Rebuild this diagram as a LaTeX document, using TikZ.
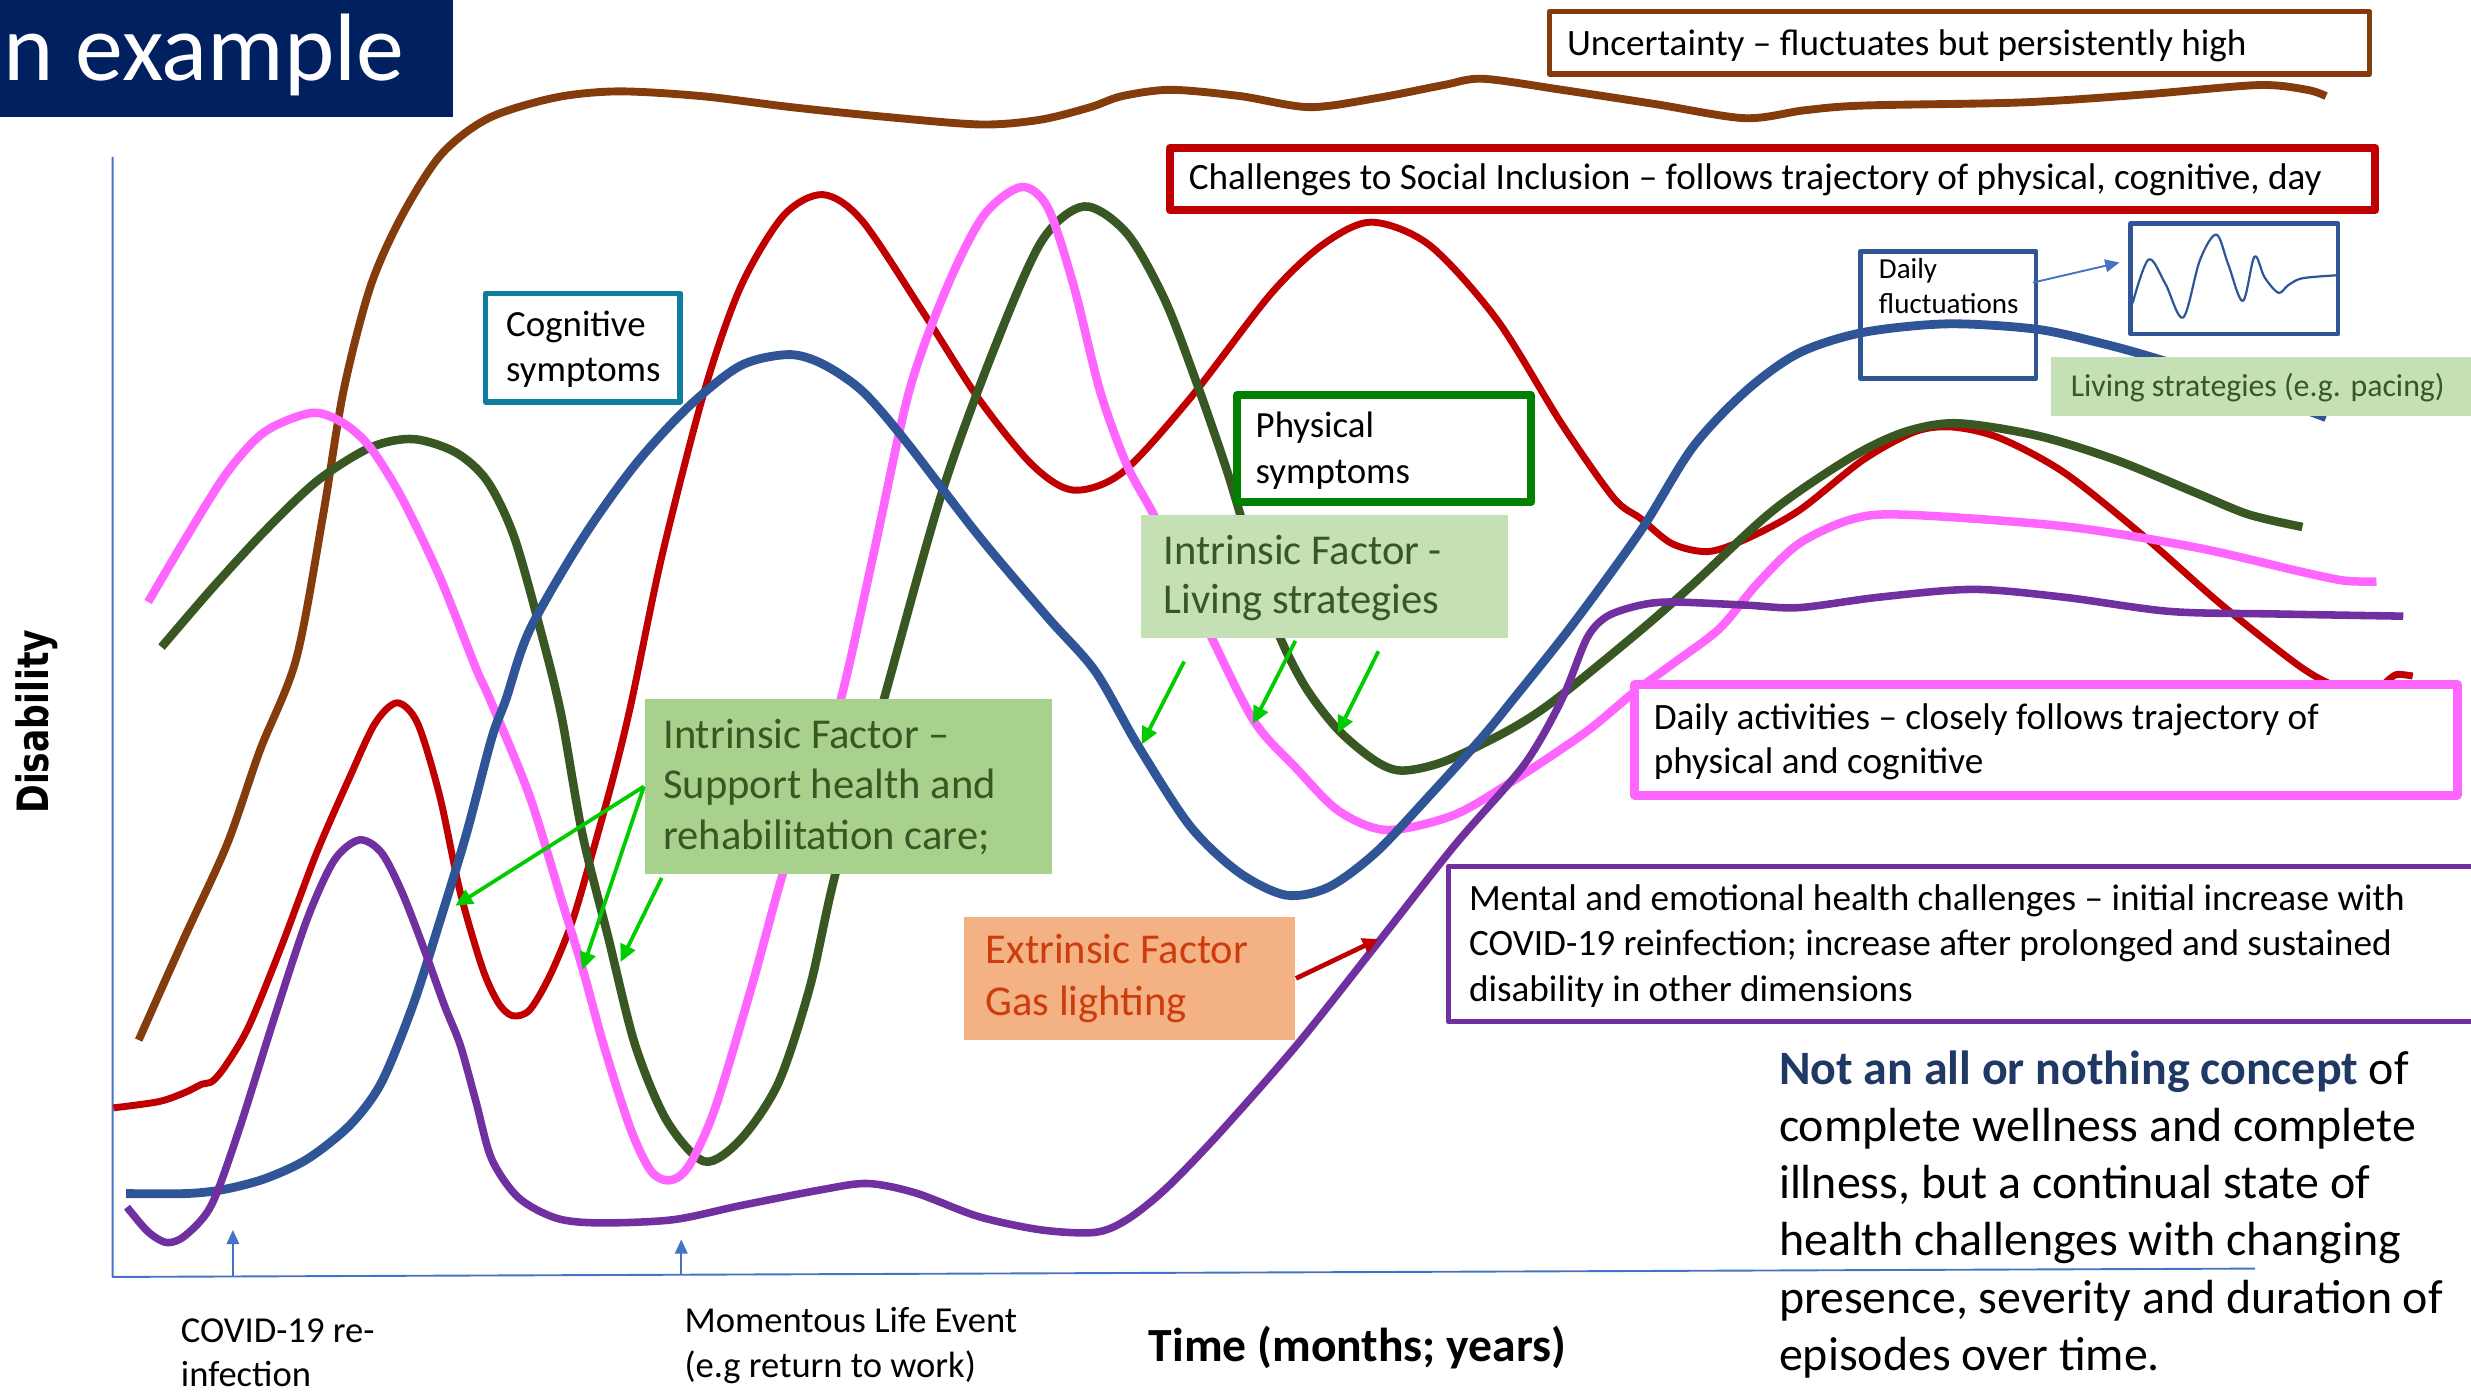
\documentclass[tikz,border=0pt]{standalone}
\usepackage{fontspec}
\setmainfont{Carlito}
\newfontfamily\disfont{DejaVu Sans}[FakeStretch=0.8]
\usetikzlibrary{arrows.meta}
\definecolor{navyT}{HTML}{002060}
\definecolor{brownc}{HTML}{843C0C}
\definecolor{redc}{HTML}{C00000}
\definecolor{dgreen}{HTML}{385723}
\definecolor{pinkc}{HTML}{FF66FF}
\definecolor{bluec}{HTML}{2F5597}
\definecolor{purplec}{HTML}{7030A0}
\definecolor{tealc}{HTML}{0F7DA0}
\definecolor{boxgreen}{HTML}{008000}
\definecolor{lgreen}{HTML}{C5E0B4}
\definecolor{mgreen}{HTML}{A9D18E}
\definecolor{orfill}{HTML}{F4B183}
\definecolor{ortext}{HTML}{CC3D0E}
\definecolor{argreen}{HTML}{00CC00}
\definecolor{axisblue}{HTML}{4472C4}
\definecolor{ntext}{HTML}{1F3864}
\newcommand\twoln[2]{\vtop{\hbox{#1}\hbox{#2}}}
\newcommand\threeln[3]{\vtop{\hbox{#1}\hbox{#2}\hbox{#3}}}
\begin{document}
\begin{tikzpicture}[x=0.5pt,y=-0.5pt,line join=round,
  tx/.style={inner sep=0pt,anchor=base west},
  bx/.style={draw,fill=white,inner sep=0pt},
  fb/.style={inner sep=0pt},
  garr/.style={draw=argreen,line width=1.2pt,-{Triangle[length=5.5pt,width=5pt]}},
  barr/.style={draw=axisblue,line width=0.6pt,-{Triangle[length=4.5pt,width=4pt]}},
  f12/.style={font=\fontsize{11.8}{14.2}\selectfont},
  f13/.style={font=\fontsize{13.5}{16}\selectfont}]
\useasboundingbox (0,0) rectangle (1568,886);
\clip (0,0) rectangle (1568,886);

% axes
\coordinate (O) at (71.5,810.3);
\coordinate (Ytop) at (71.5,99.5);
\coordinate (Xend) at (1431,805);
\draw[axisblue,line width=0.6pt] (Ytop) -- (O) -- (Xend);
\coordinate (ua1s) at (147.8,809.5);
\coordinate (ua1e) at (147.8,780.5);
\coordinate (ua2s) at (432.3,808.5);
\coordinate (ua2e) at (432.3,786.5);
\draw[barr] (ua1s) -- (ua1e);
\draw[barr] (ua2s) -- (ua2e);

% curves
\draw[brownc,line width=2.5pt] plot[smooth,tension=0.5] coordinates {(88,660) (117,595) (144,536) (165,476) (188,418) (205,327) (218,248) (235,182) (255,137) (280,98) (310,75) (352,62) (392,58) (445,61) (502,68) (560,74) (622,79) (660,76) (692,68) (712,61) (743,57) (787,61) (831,68) (875,62) (916,54) (941,50) (991,57) (1050,66) (1107,75) (1145,70) (1182,67) (1283,65) (1360,60) (1433,54) (1464,57) (1476,61)};

\draw[redc,line width=2.2pt] plot[smooth,tension=0.5] coordinates {(72,703) (101,699) (118,693) (128,688) (135,686) (144,675) (158,651) (178,602) (201,541) (222,493) (238,459) (252,446) (265,459) (279,505) (292,566) (306,614) (316,636) (325,644.5) (336,641) (349,619) (363,585) (376,541) (390,490) (401,444) (420,353) (447,248) (470,182) (497,137) (522,123.5) (547,140) (587,200) (621,253) (655,295) (681,311) (712,300) (755,253) (806,187) (839,155.5) (870,141) (907,155.5) (950,203) (991,269) (1024,316) (1041,329) (1061,345) (1084,350) (1108,342) (1141.5,324) (1182,292) (1215,274) (1239,271) (1269,278) (1310,300) (1360,340) (1410,384) (1461,424) (1488,438) (1505,441) (1515,432) (1521,428) (1531,429)};

\draw[dgreen,line width=2.7pt] plot[smooth,tension=0.5] coordinates {(102.5,410.6) (134,374) (168,337) (201.5,305) (235,284) (262,278.6) (289,287) (309,305) (326,340) (343,400) (356,453) (369.5,529) (386,595) (403,663) (423,711) (447,737) (470,723) (494,687) (514,626) (530,555) (560.6,444.8) (597.6,313) (631,221) (661,153) (688,131) (715,148) (739,190) (759,242) (779,300) (797,360) (812.5,405) (829,437) (849.5,463.5) (873,483) (890,489) (917,483) (957,463.6) (987,444) (1041,400) (1074,371) (1125,324) (1175,290) (1209,274) (1242,268.6) (1293,276.5) (1343,292) (1394,313) (1427,326.5) (1461,334.4)};

\draw[pinkc,line width=2.7pt] plot[smooth,tension=0.5] coordinates {(94,382) (117.6,342) (144,300) (168,274) (198,262) (218,268.6) (235,284) (255,316) (279,366) (302,424) (311,444) (336,505) (356,570) (369.5,614) (383,663) (400,716) (413,743) (425,749) (437,740) (453.5,704) (477,626) (497,553.5) (516,497) (534,442) (554,353) (577,248) (601,182) (624,137) (648,118.7) (665,132) (681.5,182) (698,248) (715,295) (732,326.5) (750,366) (769,405) (796,458) (823,488) (849.5,514.6) (880,526.7) (923,517) (964,493) (1007,464) (1036,440) (1061,421.5) (1091,399) (1115,370.5) (1141.5,345) (1175,329.5) (1209,326.6) (1310,334) (1394,347.5) (1461,363) (1488,368.5) (1508,369)};

\draw[bluec,line width=2.8pt] plot[smooth,tension=0.5] coordinates {(80,757.4) (117.6,757.4) (141,755) (168,748) (195,735.5) (222,714) (242,687) (262,638) (279,585) (296,529) (312,468.5) (321,444) (336,400) (369.5,342) (403,295) (437,258) (470,232) (500.5,225) (522,231) (547,248) (574,279) (621,340) (665,392) (695,426) (722,473) (755,524) (786,553.5) (816,568) (843,563) (873,541) (907,505) (940,468.5) (960,444) (997,397.5) (1041,337) (1074,284) (1108,248) (1141.5,224) (1182,211) (1236,205.5) (1293,209) (1336.5,218.6) (1370,228) (1420,244) (1476,265)};

\draw[purplec,line width=2.4pt] plot[smooth,tension=0.5] coordinates {(80.6,766) (94,781.7) (106,788.5) (117.6,784) (134,765) (151,719) (175,643) (195,583) (212,546) (228,533) (242,541) (255,566) (269,602) (282,638) (292,663) (302,699) (312,735.5) (329,760) (353,773) (380,776) (427,774) (470,765) (521,755) (550.5,751) (581,757) (621,772) (661,780.5) (695,782) (715,774) (739,755) (772,721) (823,663) (873,600) (923,536.5) (967,485.5) (991,444) (1007,405) (1020,391) (1041,384) (1061,382) (1108,384) (1141.5,385.6) (1192,379) (1252,374) (1310,379) (1377,388) (1444,389.6) (1525,391)};

% title
\node[fb,fill=navyT,minimum width=143.75pt,minimum height=37.25pt] (titlebox) at (143.75,37.25) {};
\node[tx,text=white,font=\fontsize{30.4}{36}\selectfont] (title) at (2,51) {n example};

% boxes
\node[bx,draw=brownc,line width=1.7pt,minimum width=260.25pt,minimum height=19.8pt] (unc) at (1243.35,27.2) {};
\node[tx,f12] (unct) at (994,35) {Uncertainty – fluctuates but persistently high};

\node[bx,draw=redc,line width=2.5pt,minimum width=382.4pt,minimum height=19.9pt] (chal) at (1124.9,113.6) {};
\node[tx,f12] (chalt) at (754,120.5) {Challenges to Social Inclusion – follows trajectory of physical, cognitive, day};

\node[bx,draw=tealc,line width=1.7pt,minimum width=61.75pt,minimum height=34.5pt] (cog) at (369.85,220.6) {};
\node[tx,font=\fontsize{11.7}{14.45}\selectfont] (cogt) at (320.8,213.4) {\twoln{Cognitive}{symptoms}};

\node[bx,draw=boxgreen,line width=2.5pt,minimum width=93.25pt,minimum height=33.95pt] (phys) at (878.05,284.75) {};
\node[tx,font=\fontsize{11.7}{14.45}\selectfont] (physt) at (796.4,277.8) {\twoln{Physical}{symptoms}};

\node[bx,fill=white,draw=bluec,line width=1.4pt,minimum width=65.85pt,minimum height=35pt] (wave) at (1417.85,176.9) {};
\draw[bluec,line width=0.7pt] plot[smooth,tension=0.55] coordinates {(1353.3,192.3) (1363.4,164.7) (1374,180) (1385.3,201.5) (1396,165) (1406.4,148.9) (1414,168) (1423.2,191) (1430.6,162.9) (1437,176) (1445.8,185.8) (1452,181) (1461,176.6) (1482.8,174.7)};

\node[draw=bluec,line width=1.4pt,inner sep=0pt,minimum width=55.8pt,minimum height=40.35pt] (dfl) at (1236.3,199.85) {};
\node[tx,font=\fontsize{9.2}{11.3}\selectfont] (dflt) at (1191.9,176.5) {\twoln{Daily}{fluctuations}};
\coordinate (bas) at (1290.1,179.3);
\coordinate (bae) at (1344.9,166.6);
\draw[barr] (bas) -- (bae);

\node[fb,fill=lgreen,minimum width=136.75pt,minimum height=18.55pt] (lsp) at (1438.25,245.15) {};
\node[tx,text=dgreen,font=\fontsize{10.1}{12}\selectfont] (lspt) at (1313.6,251.5) {Living strategies (e.g. pacing)};

\node[fb,fill=lgreen,minimum width=116.55pt,minimum height=39.2pt] (ilv) at (840.45,365.7) {};
\node[tx,text=dgreen,font=\fontsize{13.5}{15.8}\selectfont] (ilvt) at (738,358) {\twoln{Intrinsic Factor -}{Living strategies}};

\node[fb,fill=mgreen,minimum width=129.2pt,minimum height=55.55pt] (sup) at (538.2,499.05) {};
\node[tx,text=dgreen,font=\fontsize{13.5}{16}\selectfont] (supt) at (420.5,475) {\threeln{Intrinsic Factor –}{Support health and}{rehabilitation care;}};

\node[fb,fill=orfill,minimum width=105.15pt,minimum height=38.95pt] (ext) at (716.85,620.85) {};
\node[tx,text=ortext,font=\fontsize{13.5}{16.4}\selectfont] (extt) at (625.1,611.7) {\twoln{Extrinsic Factor}{Gas lighting}};

\node[bx,draw=pinkc,line width=2.75pt,minimum width=260.95pt,minimum height=35.2pt] (dact) at (1298.25,469.5) {};
\node[tx,font=\fontsize{11.8}{14.15}\selectfont] (dactt) at (1049,462.6) {\twoln{Daily activities – closely follows trajectory of}{physical and cognitive}};

\node[bx,draw=purplec,line width=1.75pt,minimum width=330.5pt,minimum height=49.25pt] (ment) at (1249.5,599.05) {};
\node[tx,font=\fontsize{11.8}{14.3}\selectfont] (mentt) at (931.8,578) {\threeln{Mental and emotional health challenges – initial increase with}{COVID-19 reinfection; increase after prolonged and sustained}{disability in other dimensions}};

% arrows
\coordinate (g1e) at (288.9,574.8);
\coordinate (g2e) at (369.5,615.4);
\coordinate (g3s) at (419.9,557.1);
\coordinate (g3e) at (393.7,610.5);
\draw[garr] (sup.west) -- (g1e);
\draw[garr] (sup.west) -- (g2e);
\draw[garr] (g3s) -- (g3e);
\coordinate (l1s) at (751.4,419.8);
\coordinate (l1e) at (724.5,472.4);
\coordinate (l2s) at (822,406.7);
\coordinate (l2e) at (795.1,459.3);
\coordinate (l3s) at (874.7,413.3);
\coordinate (l3e) at (848.8,465.3);
\draw[garr] (l1s) -- (l1e);
\draw[garr] (l2s) -- (l2e);
\draw[garr] (l3s) -- (l3e);
\coordinate (rtip) at (874.7,595.9);
\draw[redc,line width=1.5pt,-{Triangle[length=5pt,width=5pt]}] (ext.east) -- (rtip);

% labels
\node[tx,font=\fontsize{11.6}{14}\selectfont] (covid) at (114.4,852) {\twoln{COVID-19 re-}{infection}};
\node[tx,font=\fontsize{11.6}{14.3}\selectfont] (mom) at (434,845.5) {\twoln{Momentous Life Event}{(e.g return to work)}};
\node[tx,font=\fontsize{15.1}{18}\selectfont\bfseries] (timel) at (728.6,864) {Time (months; years)};
\node[inner sep=0pt,anchor=base,rotate=90,font=\disfont\fontsize{13.7}{16}\selectfont\bfseries] (disab) at (30.5,458) {Disability};
\node[tx,font=\fontsize{15.2}{18.15}\selectfont] (concept) at (1128.5,688.1) {\vtop{\hbox{{\color{ntext}\bfseries Not an all or nothing concept} of}\hbox{complete wellness and complete}\hbox{illness, but a continual state of}\hbox{health challenges with changing}\hbox{presence, severity and duration of}\hbox{episodes over time.}}};
\end{tikzpicture}
\end{document}
